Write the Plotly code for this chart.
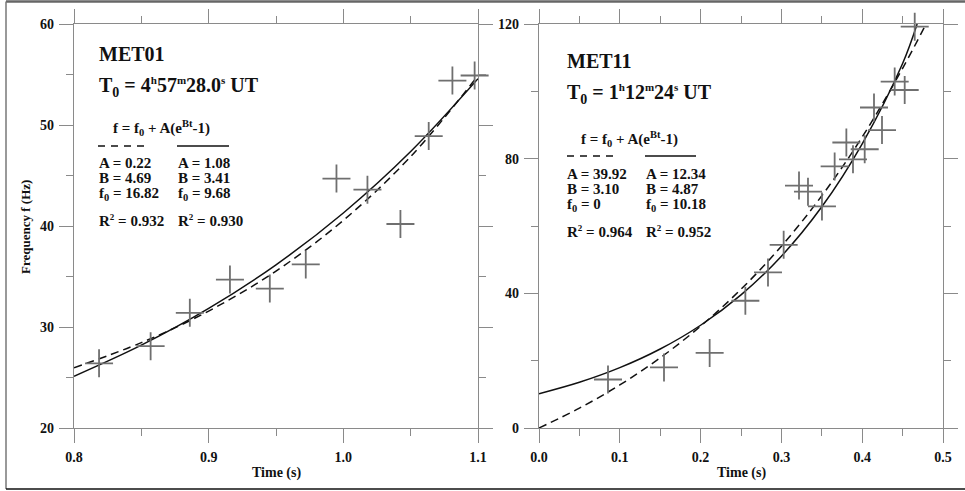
import plotly.graph_objects as go

# ---------------- data ----------------
# MET01 (left panel)
met01_t = [0.8186, 0.8569, 0.8860, 0.9158, 0.9454, 0.9721, 0.9949, 1.0179, 1.0424, 1.0634, 1.0810, 1.0975]
met01_f = [26.4, 28.1, 31.4, 34.7, 33.8, 36.2, 44.7, 43.6, 40.2, 48.9, 54.4, 54.9]
met01_fit_t = [0.80, 0.85, 0.90, 0.95, 1.00, 1.05, 1.10]
met01_dash_f = [25.97, 28.45, 31.58, 35.54, 40.56, 46.87, 54.88]
met01_solid_f = [25.12, 28.20, 31.84, 36.16, 41.29, 47.37, 54.58]

# MET11 (right panel)
met11_t = [0.0854, 0.1547, 0.2112, 0.2554, 0.2834, 0.3028, 0.3218, 0.3329, 0.3502,
           0.3659, 0.3804, 0.3886, 0.4031, 0.4146, 0.4245, 0.4402, 0.4526, 0.4650]
met11_f = [14.4, 18.0, 22.3, 37.8, 46.2, 54.4, 72.0, 70.2, 65.8,
           77.7, 84.8, 79.8, 82.8, 95.2, 88.5, 102.9, 100.4, 119.2]
met11_solid_t = [0.00, 0.05, 0.10, 0.15, 0.20, 0.25, 0.30, 0.35, 0.40, 0.45, 0.468]
met11_solid_f = [10.18, 13.58, 17.92, 23.46, 30.52, 39.54, 51.03, 65.70, 84.41, 108.27, 120.0]
met11_dash_t = [0.00, 0.05, 0.10, 0.15, 0.20, 0.25, 0.30, 0.35, 0.40, 0.45, 0.479]
met11_dash_f = [0.0, 5.90, 12.79, 20.84, 30.24, 41.21, 54.01, 68.97, 86.44, 106.83, 120.0]

# ticks
met01_xticks = [0.8, 0.9, 1.0, 1.1]
met01_xlabels = ["0.8", "0.9", "1.0", "1.1"]
met01_xminor = [0.85, 0.95, 1.05]
met01_yticks = [20, 30, 40, 50, 60]
met01_yminor = [25, 35, 45, 55]
met11_xticks = [0.0, 0.1, 0.2, 0.3, 0.4, 0.5]
met11_xlabels = ["0.0", "0.1", "0.2", "0.3", "0.4", "0.5"]
met11_xminor = [0.05, 0.15, 0.25, 0.35, 0.45]
met11_yticks = [0, 40, 80, 120]
met11_yminor = [20, 60, 100]

# texts
SS = "<sup><span style='font-size:11px'>%s</span></sup>"
met01_texts = ["MET01", "T<sub>0</sub> = 4" + SS % "h" + "57" + SS % "m" + "28.0" + SS % "s" + " UT"]
met11_texts = ["MET11", "T<sub>0</sub> = 1" + SS % "h" + "12" + SS % "m" + "24" + SS % "s" + " UT"]
formula = "f = f<sub>0</sub> + A(e<sup>Bt</sup>-1)"
R2 = "R<sup><span style='font-size:9px'>2</span></sup>"
met01_dash_params = ["A = 0.22", "B = 4.69", "f<sub>0</sub> = 16.82", R2 + " = 0.932"]
met01_solid_params = ["A = 1.08", "B = 3.41", "f<sub>0</sub> = 9.68", R2 + " = 0.930"]
met11_dash_params = ["A = 39.92", "B = 3.10", "f<sub>0</sub> = 0", R2 + " = 0.964"]
met11_solid_params = ["A = 12.34", "B = 4.87", "f<sub>0</sub> = 10.18", R2 + " = 0.952"]

# ---------------- figure ----------------
W, H = 965, 491
FONT = "Liberation Serif"
AXC = "#8a8a8a"
MK = "#6f6f6f"


def px(x):
    return x / W


def py(y):
    return 1 - y / H


fig = go.Figure()

marker = dict(symbol="cross-thin-open", size=20, line=dict(color=MK, width=1.8), color=MK)

fig.add_trace(go.Scatter(x=met01_fit_t, y=met01_dash_f, mode="lines", line_shape="spline",
                         line=dict(color="#111", width=1.5, dash="8px,5px"), xaxis="x", yaxis="y"))
fig.add_trace(go.Scatter(x=met01_fit_t, y=met01_solid_f, mode="lines", line_shape="spline",
                         line=dict(color="#111", width=1.5), xaxis="x", yaxis="y"))
fig.add_trace(go.Scatter(x=met01_t, y=met01_f, mode="markers", marker=marker, cliponaxis=False,
                         xaxis="x", yaxis="y"))

fig.add_trace(go.Scatter(x=met11_dash_t, y=met11_dash_f, mode="lines", line_shape="spline",
                         line=dict(color="#111", width=1.5, dash="8px,5px"), xaxis="x2", yaxis="y2"))
fig.add_trace(go.Scatter(x=met11_solid_t, y=met11_solid_f, mode="lines", line_shape="spline",
                         line=dict(color="#111", width=1.5), xaxis="x2", yaxis="y2"))
fig.add_trace(go.Scatter(x=met11_t, y=met11_f, mode="markers", marker=marker, cliponaxis=False,
                         xaxis="x2", yaxis="y2"))

tickfont = dict(family=FONT, size=14, color="#111", weight="bold")


def axis(domain, rng, tickvals, ticktext, minorvals, anchor):
    return dict(
        domain=domain, range=rng, anchor=anchor, automargin=False,
        tickmode="array", tickvals=tickvals, ticktext=ticktext,
        ticks="outside", ticklen=14, tickwidth=1.3, tickcolor=AXC,
        showline=True, linecolor=AXC, linewidth=1.3, mirror="ticks",
        showgrid=False, zeroline=False, tickfont=tickfont, ticklabelstandoff=2,
        minor=dict(tickmode="array", tickvals=minorvals, ticks="outside", ticklen=7,
                   tickwidth=1.3, tickcolor=AXC, showgrid=False),
        fixedrange=True,
    )


ydom = [py(428), py(24)]
fig.update_layout(
    width=W, height=H, margin=dict(l=0, r=0, t=0, b=0, autoexpand=False),
    paper_bgcolor="white", plot_bgcolor="white", showlegend=False,
    xaxis=axis([px(74), px(478)], [0.8, 1.1], met01_xticks, met01_xlabels, met01_xminor, "y"),
    yaxis=axis(ydom, [20, 60], met01_yticks, [str(v) for v in met01_yticks], met01_yminor, "x"),
    xaxis2=axis([px(539), px(943)], [0.0, 0.5], met11_xticks, met11_xlabels, met11_xminor, "y2"),
    yaxis2=axis(ydom, [0, 120], met11_yticks, [str(v) for v in met11_yticks], met11_yminor, "x2"),
)

ann = []


def text(x, y, s, size, xanchor="left", angle=0):
    ann.append(dict(x=px(x), y=py(y), xref="paper", yref="paper", text=s, showarrow=False,
                    xanchor=xanchor, yanchor="middle", textangle=angle,
                    font=dict(family=FONT, size=size, color="#111", weight="bold")))


# left panel
text(97, 54, met01_texts[0], 20)
text(97, 87, met01_texts[1], 20)
text(161, 128, formula, 15, "center")
for i, yy in enumerate([163, 178, 194, 221]):
    text(97, yy, met01_dash_params[i], 15)
    text(176, yy, met01_solid_params[i], 15)
# right panel
text(565, 61, met11_texts[0], 20)
text(565, 94, met11_texts[1], 20)
text(629, 139, formula, 15, "center")
for i, yy in enumerate([174, 189, 205, 231]):
    text(565, yy, met11_dash_params[i], 15)
    text(644, yy, met11_solid_params[i], 15)

# axis titles
text(25, 227, "Frequency f (Hz)", 13, "center", -90)
text(276, 473, "Time (s)", 14, "center")
text(741, 473, "Time (s)", 14, "center")
fig.update_layout(annotations=ann)

shapes = []
# legend line samples
for (x0, x1, yy, dash) in [(98, 148, 146, "7px,6px"), (177, 229, 146, "solid"),
                           (567, 617, 156, "7px,6px"), (645, 696, 156, "solid")]:
    shapes.append(dict(type="line", xref="paper", yref="paper", x0=px(x0), x1=px(x1), y0=py(yy), y1=py(yy),
                       line=dict(color="#111", width=1.5, dash=dash)))
# outer frame
shapes.append(dict(type="line", xref="paper", yref="paper", x0=px(6), x1=px(965), y0=py(1.5), y1=py(1.5),
                   line=dict(color="#666", width=2.5)))
shapes.append(dict(type="line", xref="paper", yref="paper", x0=px(6), x1=px(6), y0=py(1.5), y1=py(489),
                   line=dict(color="#777", width=1.5)))
shapes.append(dict(type="line", xref="paper", yref="paper", x0=px(6), x1=px(965), y0=py(489), y1=py(489),
                   line=dict(color="#111", width=1.5)))
fig.update_layout(shapes=shapes)

fig.write_html("out.html")
